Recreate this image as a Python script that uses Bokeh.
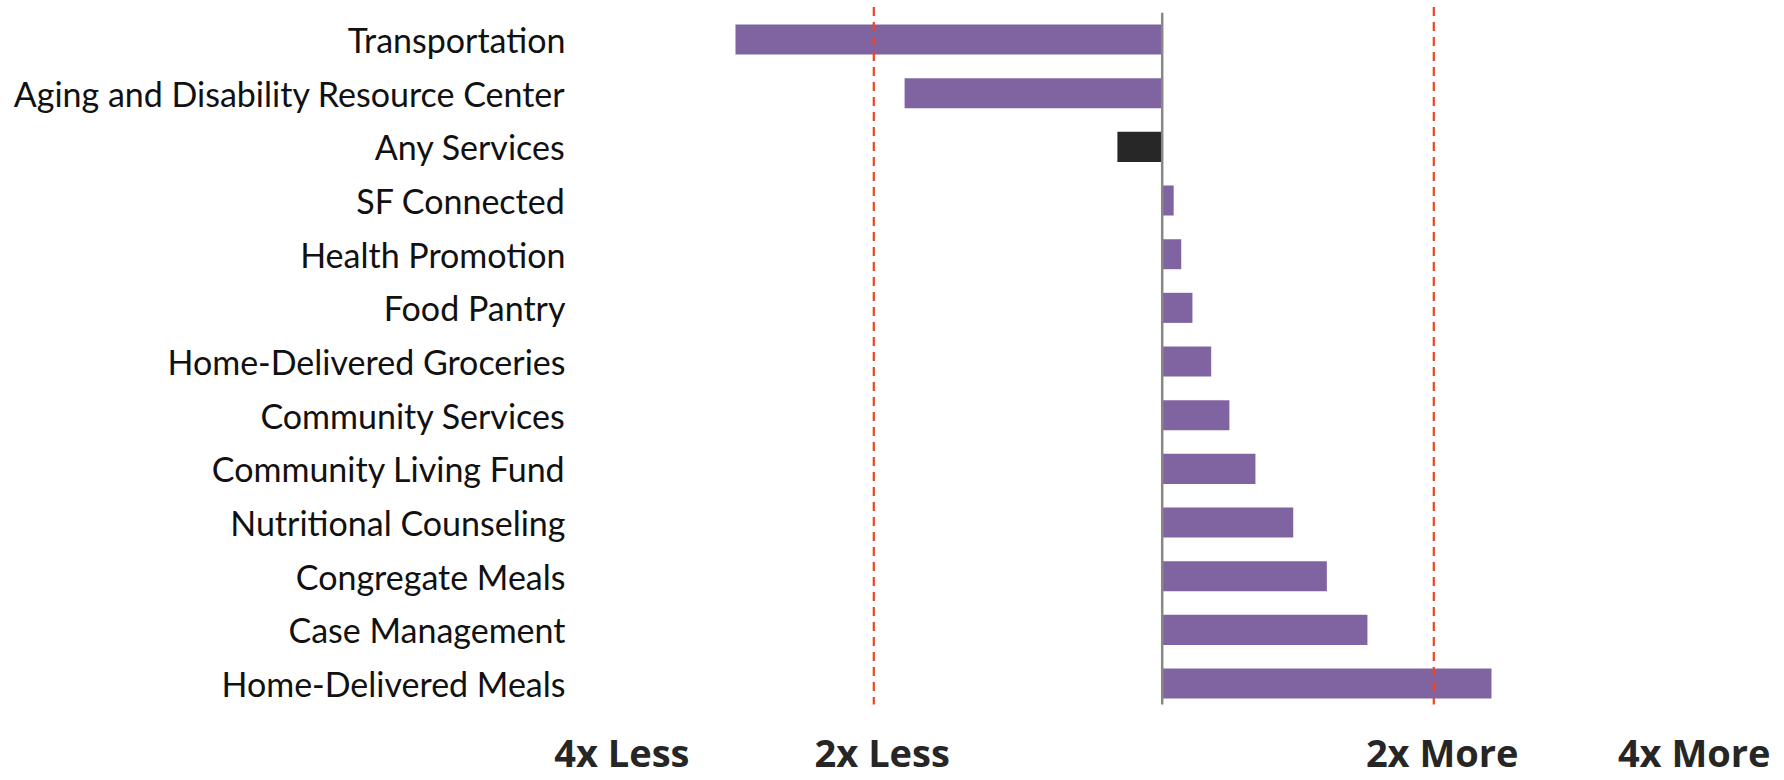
from bokeh.plotting import figure
from bokeh.models import ColumnDataSource, FixedTicker, Range1d
from bokeh.embed import file_html
from bokeh.resources import INLINE

# ---- data ----
categories = [
    "Transportation",
    "Aging and Disability Resource Center",
    "Any Services",
    "SF Connected",
    "Health Promotion",
    "Food Pantry",
    "Home-Delivered Groceries",
    "Community Services",
    "Community Living Fund",
    "Nutritional Counseling",
    "Congregate Meals",
    "Case Management",
    "Home-Delivered Meals",
]
# relative use, log2 scale (negative = less, positive = more)
values = [-1.524, -0.920, -0.160, 0.041, 0.068, 0.108, 0.175, 0.240,
          0.333, 0.468, 0.588, 0.733, 1.176]
bar_colors = ["#8064A2", "#8064A2", "#272727"] + ["#8064A2"] * 10
guide_lines = [-1.03, 0.97]
tick_positions = [-1.93, -1.0, 1.0, 1.9]
tick_labels = ["4x Less", "2x Less", "2x More", "4x More"]

n = len(categories)
ypos = [n - 1 - i for i in range(n)]

src = ColumnDataSource(dict(y=ypos, v=values, c=bar_colors, name=categories))

p = figure(width=1784, height=780, output_backend="svg", toolbar_location=None,
           x_range=Range1d(-2.0775, 2.2225), y_range=Range1d(-0.391, n - 1 + 0.727),
           min_border_left=580, min_border_right=0, min_border_top=0,
           min_border_bottom=76)
p.outline_line_color = None
p.xgrid.visible = False
p.ygrid.visible = False
p.background_fill_color = "white"
p.border_fill_color = "white"

p.hbar(y="y", left=0, right="v", height=0.56, fill_color="c", line_color=None, source=src)

# center reference line
p.segment(x0=[0], y0=[-0.5], x1=[0], y1=[n - 0.5], line_color="#878787", line_width=2.5)

# 2x guide lines
p.segment(x0=guide_lines, y0=[-0.7] * len(guide_lines), x1=guide_lines,
          y1=[n - 1 + 0.615] * len(guide_lines),
          line_color="#EF4423", line_width=2.2, line_dash="9 6")

# x axis: ratio labels
p.xaxis.ticker = FixedTicker(ticks=tick_positions)
p.xaxis.major_label_overrides = {t: l for t, l in zip(tick_positions, tick_labels)}
p.xaxis.axis_line_color = None
p.xaxis.major_tick_line_color = None
p.xaxis.minor_tick_line_color = None
p.xaxis.major_tick_out = 0
p.xaxis.major_tick_in = 0
p.xaxis.major_label_standoff = 21
p.xaxis.major_label_text_font = "Open Sans"
p.xaxis.major_label_text_font_style = "bold"
p.xaxis.major_label_text_font_size = "38px"
p.xaxis.major_label_text_color = "#262626"

# y axis: category labels
p.yaxis.ticker = FixedTicker(ticks=ypos)
p.yaxis.major_label_overrides = {y: c for y, c in zip(ypos, categories)}
p.yaxis.axis_line_color = None
p.yaxis.major_tick_line_color = None
p.yaxis.minor_tick_line_color = None
p.yaxis.major_tick_out = 0
p.yaxis.major_tick_in = 0
p.yaxis.major_label_standoff = 15
p.yaxis.major_label_text_font = "Lato"
p.yaxis.major_label_text_font_size = "34px"
p.yaxis.major_label_text_color = "#111111"

open("out.html", "w").write(file_html(p, INLINE))
